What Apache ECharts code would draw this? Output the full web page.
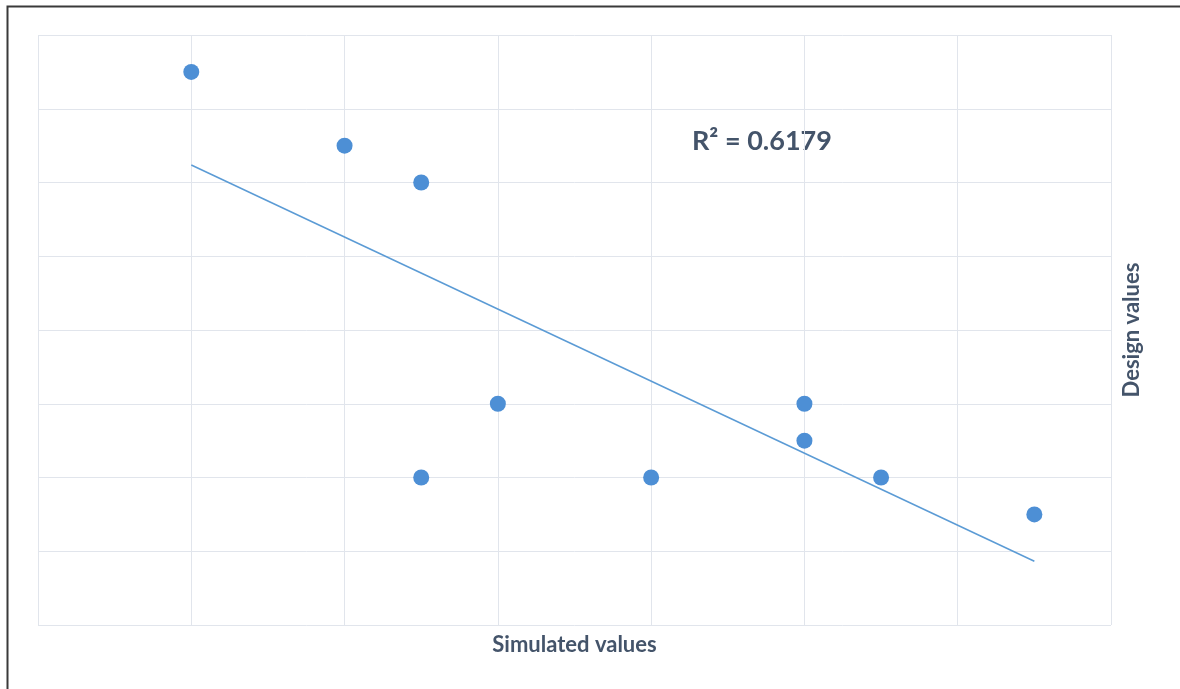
<!DOCTYPE html>
<html>
<head>
<meta charset="utf-8">
<script src="https://cdn.jsdelivr.net/npm/echarts@6/dist/echarts.min.js"></script>
<style>
html,body{margin:0;padding:0;background:#fff;}
#chart{width:1180px;height:689px;}
</style>
</head>
<body>
<div id="chart"></div>
<script>
// Data (axes carry no tick labels; units are grid steps)
const simulated = [1, 2, 2.5, 3, 2.5, 4, 5, 5, 5.5, 6.5];
const design    = [7.5, 6.5, 6, 3, 2, 2, 3, 2.5, 2, 1.5];
const xAxisName = 'Simulated values';
const yAxisName = 'Design values';

// Linear least-squares trendline (as in the original spreadsheet chart)
const n = simulated.length;
const mx = simulated.reduce((a, b) => a + b, 0) / n;
const my = design.reduce((a, b) => a + b, 0) / n;
let sxy = 0, sxx = 0, syy = 0;
for (let i = 0; i < n; i++) {
  sxy += (simulated[i] - mx) * (design[i] - my);
  sxx += (simulated[i] - mx) ** 2;
  syy += (design[i] - my) ** 2;
}
const slope = sxy / sxx;
const intercept = my - slope * mx;
const r2 = (sxy * sxy) / (sxx * syy);
const xMin = Math.min(...simulated), xMax = Math.max(...simulated);
const trend = [[xMin, intercept + slope * xMin], [xMax, intercept + slope * xMax]];

const chart = echarts.init(document.getElementById('chart'), null, {renderer: 'canvas'});
const textColor = '#44546A';
const gridColor = '#E1E5EC';
const font = 'Lato, "Open Sans", sans-serif';

chart.setOption({
  animation: false,
  backgroundColor: '#ffffff',
  grid: {left: 38, top: 35, right: 69, bottom: 64, containLabel: false},
  xAxis: {
    type: 'value', min: 0, max: 7, interval: 1,
    name: xAxisName, nameLocation: 'middle', nameGap: 9,
    nameTextStyle: {color: textColor, fontWeight: 'bold', fontSize: 22, fontFamily: font, verticalAlign: 'top'},
    axisLine: {show: false}, axisTick: {show: false}, axisLabel: {show: false},
    splitLine: {show: true, lineStyle: {color: gridColor, width: 1}}
  },
  yAxis: {
    type: 'value', min: 0, max: 8, interval: 1, position: 'right',
    name: yAxisName, nameLocation: 'middle', nameGap: 10, nameRotate: 90,
    nameTextStyle: {color: textColor, fontWeight: 'bold', fontSize: 22, fontFamily: font},
    axisLine: {show: false}, axisTick: {show: false}, axisLabel: {show: false},
    splitLine: {show: true, lineStyle: {color: gridColor, width: 1}}
  },
  graphic: [
    {type: 'rect', left: 5, top: 4, shape: {width: 1174, height: 700},
     style: {fill: 'none', stroke: '#3a3a3a', lineWidth: 2}, silent: true, z: 100},
    {type: 'text', left: 692, top: 128,
     style: {text: 'R² = ' + r2.toFixed(4), fill: textColor, font: 'bold 27px ' + font}}
  ],
  series: [
    {type: 'line', data: trend, symbol: 'none', silent: true,
     lineStyle: {color: '#5B9BD5', width: 1.5}, z: 2},
    {type: 'scatter', data: simulated.map((x, i) => [x, design[i]]),
     symbolSize: 16, itemStyle: {color: '#4D8FD5', borderWidth: 0, opacity: 1}, z: 3}
  ]
});
</script>
</body>
</html>
